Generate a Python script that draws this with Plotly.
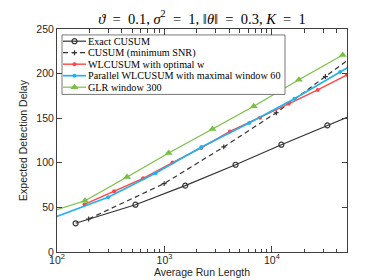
import plotly.graph_objects as go

# ---------------- data ----------------
exact_arl = [149, 537, 1560, 4590, 12250, 32800, 88100]
exact_edd = [32.2, 53.0, 74.4, 97.8, 120.3, 141.9, 163.4]

minsnr_arl = [197, 993, 3565, 10990, 31480, 90000]
minsnr_edd = [37.0, 76.7, 117.8, 156.1, 196.7, 237.2]

wl_arl = [180, 340, 633, 1188, 2200, 4070, 7750, 14320, 26680, 50100]
wl_edd = [53.3, 68.1, 82.6, 100.3, 116.7, 135.2, 150.6, 166.1, 181.7, 198.6]

par_arl = [80, 299, 824, 2213, 6150, 16190, 43150, 115000]
par_edd = [35.5, 61.4, 88.3, 117.7, 144.7, 171.7, 201.7, 231.7]

glr_arl = [74, 182, 449, 1094, 2800, 6780, 17820, 45600]
glr_edd = [42.4, 57.4, 84.1, 111.1, 137.8, 163.3, 193.1, 220.8]

series_names = ["Exact CUSUM", "CUSUM (minimum SNR)", "WLCUSUM with optimal w",
                "Parallel WLCUSUM with maximal window 60", "GLR window 300"]

x_major = [100, 1000, 10000]
x_major_text = ["10<sup>2</sup>", "10<sup>3</sup>", "10<sup>4</sup>"]
x_minor = [200, 300, 400, 500, 600, 700, 800, 900,
           2000, 3000, 4000, 5000, 6000, 7000, 8000, 9000,
           20000, 30000, 40000, 50000]
y_ticks = [0, 50, 100, 150, 200, 250]

# ---------------- styles ----------------
BLACK = "#333333"
RED = "#FF4545"
BLUE = "#22B2EE"
GREEN = "#77C043"
AXC = "#404040"
SANS = "Liberation Sans, Arial, sans-serif"
SERIF = "Liberation Serif, Times New Roman, serif"

styles = [
    dict(line=dict(color=BLACK, width=1.2),
         marker=dict(symbol="circle-open", size=5, color=BLACK, line=dict(width=1.2, color=BLACK))),
    dict(line=dict(color=BLACK, width=1.2, dash="5px,3.5px"),
         marker=dict(symbol="cross-thin-open", size=3.5, color=BLACK, line=dict(width=1.2, color=BLACK))),
    dict(line=dict(color=RED, width=1.4),
         marker=dict(symbol="circle", size=4, color=RED)),
    dict(line=dict(color=BLUE, width=1.7),
         marker=dict(symbol="circle", size=4, color=BLUE)),
    dict(line=dict(color=GREEN, width=1.2),
         marker=dict(symbol="triangle-up", size=7, color=GREEN)),
]

xs = [exact_arl, minsnr_arl, wl_arl, par_arl, glr_arl]
ys = [exact_edd, minsnr_edd, wl_edd, par_edd, glr_edd]

fig = go.Figure()
for name, x, y, st in zip(series_names, xs, ys, styles):
    fig.add_trace(go.Scatter(x=x, y=y, mode="lines+markers", name=name,
                             showlegend=False, cliponaxis=True, **st))

# ---------------- manual legend (on overlay axes, above data) ----------------
L, R, T, B = 49, 339, 21, 246
def px(xp):
    return (xp - L) / (R - L)
def py(yp):
    return (B - yp) / (B - T)

bx0, bx1, by0, by1 = px(54), px(277), py(87), py(27)
fig.add_trace(go.Scatter(x=[bx0, bx1, bx1, bx0, bx0], y=[by0, by0, by1, by1, by0],
                         xaxis="x2", yaxis="y2", mode="lines", fill="toself",
                         fillcolor="white", line=dict(color="#555555", width=0.8),
                         showlegend=False, hoverinfo="skip"))
for i, (name, st) in enumerate(zip(series_names, styles)):
    yy = py(33.3 + 11.6 * i)
    fig.add_trace(go.Scatter(x=[px(55), px(78)], y=[yy, yy],
                             xaxis="x2", yaxis="y2", mode="lines",
                             line=st["line"], showlegend=False, hoverinfo="skip"))
    fig.add_trace(go.Scatter(x=[px(66.5)], y=[yy],
                             xaxis="x2", yaxis="y2", mode="markers",
                             marker=st["marker"], showlegend=False, hoverinfo="skip"))
    fig.add_annotation(x=px(78), y=yy, xref="paper", yref="paper", text=name,
                       showarrow=False, xanchor="left", yanchor="middle",
                       font=dict(family=SERIF, size=10.2, color="black"))

EQ = "\u2002=\u2002"
title_text = (f"<i>ϑ</i>{EQ}0.1, <i>σ</i><sup>2</sup>{EQ}1, "
              f"‖<i>θ</i>‖{EQ}0.3, <i>K</i>{EQ}1")

fig.update_layout(
    width=374, height=280,
    margin=dict(l=L, r=374 - R, t=T, b=280 - B),
    paper_bgcolor="white", plot_bgcolor="white",
    showlegend=False,
    title=dict(text=title_text,
               x=0.5, xref="paper", xanchor="center",
               y=1 - 10.5 / 280, yref="container", yanchor="middle",
               font=dict(family=SERIF, size=14.5, color="black")),
    xaxis=dict(type="log", range=[2, 4.699], tickmode="array",
               tickvals=x_major, ticktext=x_major_text,
               ticks="inside", ticklen=6, tickwidth=1, tickcolor=AXC,
               ticklabelstandoff=-2,
               minor=dict(tickmode="array", tickvals=x_minor, ticks="inside",
                          ticklen=3.5, tickwidth=1, tickcolor=AXC),
               showline=True, linecolor=AXC, linewidth=1, mirror="ticks",
               showgrid=False, zeroline=False,
               tickfont=dict(family=SANS, size=10.5, color="#262626"),
               title=dict(text="Average Run Length", standoff=3,
                          font=dict(family=SANS, size=10.5, color="#262626"))),
    yaxis=dict(range=[0, 250], tickmode="array", tickvals=y_ticks,
               ticks="inside", ticklen=5, tickwidth=1, tickcolor=AXC,
               showline=True, linecolor=AXC, linewidth=1, mirror="ticks",
               showgrid=False, zeroline=False,
               tickfont=dict(family=SANS, size=10.5, color="#262626"),
               title=dict(text="Expected Detection Delay", standoff=6,
                          font=dict(family=SANS, size=10.5, color="#262626"))),
    xaxis2=dict(overlaying="x", range=[0, 1], visible=False, fixedrange=True),
    yaxis2=dict(overlaying="y", range=[0, 1], visible=False, fixedrange=True),
)

fig.write_html("out.html")
